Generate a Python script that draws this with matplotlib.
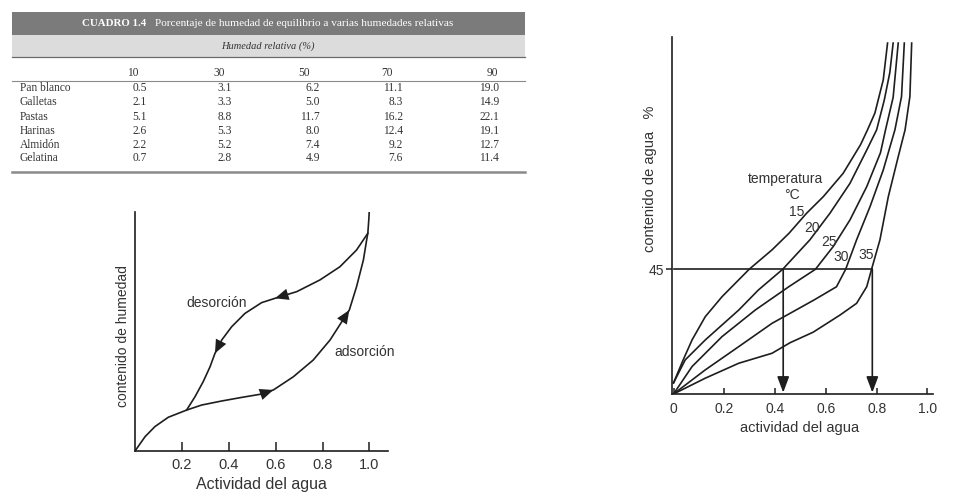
import numpy as np
import matplotlib
matplotlib.use('Agg')
import matplotlib.pyplot as plt
from matplotlib.patches import Rectangle

# ---- table data (Cuadro 1.4) ----
rh_levels = [10, 30, 50, 70, 90]
foods = ['Pan blanco', 'Galletas', 'Pastas', 'Harinas', 'Almidón', 'Gelatina']
pan_blanco = [0.5, 3.1, 6.2, 11.1, 19.0]
galletas = [2.1, 3.3, 5.0, 8.3, 14.9]
pastas = [5.1, 8.8, 11.7, 16.2, 22.1]
harinas = [2.6, 5.3, 8.0, 12.4, 19.1]
almidon = [2.2, 5.2, 7.4, 9.2, 12.7]
gelatina = [0.7, 2.8, 4.9, 7.6, 11.4]

# ---- hysteresis curves (left plot), y in fraction of axis height ----
ads_aw = [0, 0.043, 0.085, 0.142, 0.22, 0.284, 0.37, 0.455, 0.54, 0.59, 0.675, 0.76,
          0.832, 0.914, 0.945, 0.974, 0.988, 0.993, 0.997, 0.999]
ads_m = [0, 0.06, 0.102, 0.141, 0.171, 0.192, 0.209, 0.224, 0.238, 0.255, 0.31, 0.38,
         0.464, 0.589, 0.687, 0.798, 0.882, 0.91, 0.965, 1.0]
des_aw = [0.993, 0.945, 0.874, 0.789, 0.69, 0.597, 0.54, 0.469, 0.412, 0.37, 0.341,
          0.32, 0.291, 0.256, 0.22]
des_m = [0.91, 0.84, 0.77, 0.715, 0.666, 0.638, 0.62, 0.575, 0.519, 0.464, 0.408,
         0.352, 0.29, 0.227, 0.171]

# ---- isotherms at several temperatures (right plot) ----
temperatures = [15, 20, 25, 30, 35]
c15_aw = [0, 0.038, 0.073, 0.125, 0.191, 0.298, 0.388, 0.455, 0.524, 0.59, 0.668, 0.737, 0.764, 0.793, 0.826, 0.843]
c15_w = [4.0, 12.3, 19.5, 27.9, 35.1, 45, 52, 58, 65.2, 71.2, 79.6, 90, 95.3, 101.3, 113.3, 126.6]
c20_aw = [0, 0.046, 0.125, 0.257, 0.334, 0.430, 0.537, 0.616, 0.695, 0.761, 0.80, 0.83, 0.852, 0.865]
c20_w = [4.0, 12.3, 19.5, 30.3, 37.5, 45, 55.6, 65.2, 76, 88, 95.3, 106, 116, 126.6]
c25_aw = [0, 0.073, 0.191, 0.322, 0.454, 0.559, 0.629, 0.695, 0.761, 0.815, 0.835, 0.865, 0.885]
c25_w = [0, 9.9, 20.7, 30.3, 38.7, 45, 53.2, 62.8, 74.8, 87, 95.3, 107, 126.6]
c30_aw = [0, 0.125, 0.257, 0.388, 0.459, 0.555, 0.642, 0.678, 0.721, 0.774, 0.826, 0.872, 0.898, 0.909]
c30_w = [0, 8.7, 17.1, 25.5, 29.1, 34, 38.7, 45, 55.6, 67.6, 80.8, 95.3, 107.3, 126.6]
c35_aw = [0, 0.125, 0.257, 0.388, 0.459, 0.55, 0.656, 0.721, 0.761, 0.78, 0.813, 0.846, 0.885, 0.912, 0.931, 0.938]
c35_w = [0, 5.7, 11.1, 14.7, 18.5, 22.3, 28.5, 32.7, 38.7, 45, 55.6, 71.2, 85.6, 95.3, 107.3, 126.6]
water_level = 45
aw_at_level = [0.432, 0.783]

W, H = 961, 496
INK = '#1e1e1e'
TXT = '#333333'
SANS = 'Liberation Sans'
SERIF = 'Liberation Serif'

fig = plt.figure(figsize=(W / 100, H / 100), dpi=100)

# full-figure axes in pixel units for the table and free labels
bg = fig.add_axes([0, 0, 1, 1])
bg.set_xlim(0, W)
bg.set_ylim(H, 0)
bg.axis('off')

# table frame
bg.add_patch(Rectangle((12, 11.7), 513, 23.3, color='#7b7b7b', lw=0))
bg.add_patch(Rectangle((12, 35), 513, 21.7, color='#dcdcdc', lw=0))
bg.plot([12, 525], [56.7, 56.7], color='#6a6a6a', lw=0.9)
bg.plot([12, 525], [80.5, 80.5], color='#8a8a8a', lw=0.8)
bg.plot([12, 525], [171.5, 171.5], color='#8a8a8a', lw=1.8)

bg.text(82, 23.5, 'CUADRO 1.4', color='white', fontsize=7.8, fontweight='bold',
        family=SERIF, ha='left', va='center')
bg.text(155, 23.5, 'Porcentaje de humedad de equilibrio a varias humedades relativas',
        color='white', fontsize=8.1, family=SERIF, ha='left', va='center')
bg.text(268, 46, 'Humedad relativa (%)', fontsize=7.5, style='italic', family=SERIF,
        ha='center', va='center', color=TXT)

hdr_right = [139, 225, 310, 393, 498]
val_right = [147, 232, 320, 403, 499]
row_y = [88.3, 102.3, 116.7, 130.7, 144.7, 158.3]
rows = [pan_blanco, galletas, pastas, harinas, almidon, gelatina]
for xr, rh in zip(hdr_right, rh_levels):
    bg.text(xr, 73.5, str(rh), fontsize=8.3, family=SERIF, ha='right', va='center', color=TXT)
for yy, name, vals in zip(row_y, foods, rows):
    bg.text(20, yy, name, fontsize=8.3, family=SERIF, ha='left', va='center', color=TXT)
    for xr, v in zip(val_right, vals):
        bg.text(xr, yy, f'{v:.1f}', fontsize=8.3, family=SERIF, ha='right', va='center', color=TXT)

# ---- left plot: hysteresis ----
ax1 = fig.add_axes([135 / W, (H - 451) / H, (388 - 135) / W, (451 - 211.7) / H])
ax1.plot(ads_aw, ads_m, color=INK, lw=1.2, solid_joinstyle='round')
ax1.plot(des_aw, des_m, color=INK, lw=1.2, solid_joinstyle='round')
for xs, ys, idx in [(ads_aw, ads_m, 9), (ads_aw, ads_m, 13), (des_aw, des_m, 5), (des_aw, des_m, 10)]:
    ax1.annotate('', xy=(xs[idx], ys[idx]), xytext=(xs[idx - 1], ys[idx - 1]),
                 arrowprops=dict(arrowstyle='-|>,head_length=0.75,head_width=0.32', color=INK,
                                 lw=0, mutation_scale=13, shrinkA=0, shrinkB=0))
ax1.text(0.348, 0.617, 'desorción', fontsize=10, family=SANS, color=TXT, ha='center', va='center')
ax1.text(0.981, 0.415, 'adsorción', fontsize=10, family=SANS, color=TXT, ha='center', va='center')
ax1.set_xlim(0, 1.079)
ax1.set_ylim(0, 1.0)
ax1.set_xticks([0.2, 0.4, 0.6, 0.8, 1.0])
ax1.set_xticklabels(['0.2', '0.4', '0.6', '0.8', '1.0'], family=SANS, fontsize=10.5, color=TXT)
ax1.set_yticks([])
ax1.tick_params(axis='x', direction='in', length=6.5, width=1.1, pad=5, color=INK)
for s in ['top', 'right']:
    ax1.spines[s].set_visible(False)
for s in ['left', 'bottom']:
    ax1.spines[s].set_linewidth(1.2)
    ax1.spines[s].set_color(INK)
ax1.patch.set_alpha(0)
bg.text(261, 485, 'Actividad del agua', fontsize=11.5, family=SANS, ha='center', va='center', color=TXT)
bg.text(123, 336, 'contenido de humedad', fontsize=10, family=SANS, rotation=90,
        ha='center', va='center', color=TXT)

# ---- right plot: isotherms ----
ax2 = fig.add_axes([672 / W, (H - 394) / H, (933 - 672) / W, (394 - 36.7) / H])
for xs, ys in [(c15_aw, c15_w), (c20_aw, c20_w), (c25_aw, c25_w), (c30_aw, c30_w), (c35_aw, c35_w)]:
    ax2.plot(xs, ys, color=INK, lw=1.2, solid_joinstyle='round')
ax2.plot([0, aw_at_level[1]], [water_level, water_level], color=INK, lw=1.2)
for a in aw_at_level:
    ax2.annotate('', xy=(a, 0.5), xytext=(a, water_level),
                 arrowprops=dict(arrowstyle='-|>,head_length=0.8,head_width=0.3', color=INK,
                                 lw=1.2, mutation_scale=12, shrinkA=0, shrinkB=0))
label_pos = [(0.485, 65.8), (0.547, 59.8), (0.612, 55.0), (0.662, 49.5), (0.76, 50.2)]
for t, (lx, ly) in zip(temperatures, label_pos):
    ax2.text(lx, ly, str(t), fontsize=10, family=SANS, ha='center', va='center', color=TXT)
ax2.text(0.439, 77.5, 'temperatura', fontsize=10, family=SANS, ha='center', va='center', color=TXT)
ax2.text(0.465, 71.8, '°C', fontsize=10, family=SANS, ha='center', va='center', color=TXT)
ax2.set_xlim(-0.006, 1.022)
ax2.set_ylim(0, 128.9)
ax2.set_xticks([0, 0.2, 0.4, 0.6, 0.8, 1.0])
ax2.set_xticklabels(['0', '0.2', '0.4', '0.6', '0.8', '1.0'], family=SANS, fontsize=10, color=TXT)
ax2.set_yticks([water_level])
ax2.set_yticklabels(['45'], family=SANS, fontsize=10, color=TXT)
ax2.tick_params(axis='x', direction='in', length=4, width=1.1, pad=6, color=INK)
ax2.tick_params(axis='y', direction='out', length=4, width=1.1, pad=2, color=INK)
for s in ['top', 'right']:
    ax2.spines[s].set_visible(False)
for s in ['left', 'bottom']:
    ax2.spines[s].set_linewidth(1.2)
    ax2.spines[s].set_color(INK)
ax2.patch.set_alpha(0)
bg.text(800, 428, 'actividad del agua', fontsize=10.5, family=SANS, ha='center', va='center', color=TXT)
bg.text(650, 179, 'contenido de agua   %', fontsize=10.5, family=SANS, rotation=90,
        ha='center', va='center', color=TXT)

fig.savefig('out.png', dpi=100)
